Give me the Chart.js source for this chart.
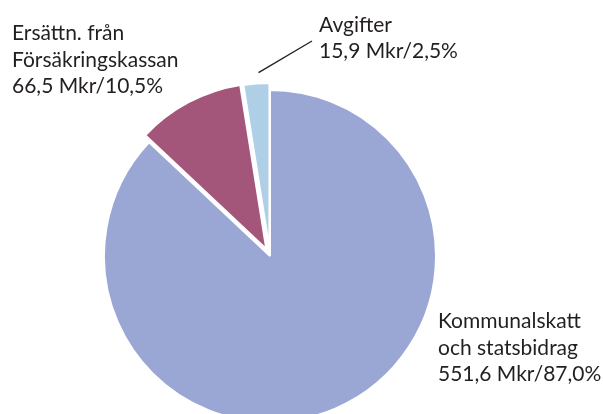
<!DOCTYPE html>
<html>
<head>
<meta charset="utf-8">
<script src="https://cdn.jsdelivr.net/npm/chart.js@4"></script>
<style>
  html, body { margin: 0; padding: 0; background: #ffffff; }
  canvas { display: block; }
</style>
</head>
<body>
<canvas id="c" width="603" height="414"></canvas>
<script>
// Data
const categories = ['Kommunalskatt och statsbidrag', 'Ersättn. från Försäkringskassan', 'Avgifter'];
const values = [551.6, 66.5, 15.9];
const labelLines = [
  ['Kommunalskatt', 'och statsbidrag', '551,6 Mkr/87,0%'],
  ['Ersättn. från', 'Försäkringskassan', '66,5 Mkr/10,5%'],
  ['Avgifter', '15,9 Mkr/2,5%']
];

const colors = ['#9AA7D4', '#A4567A', '#AFCFE7'];
const explodePx = [0, 8, 7];
const labelFont = '21px Lato';
const textColor = '#231F20';

const explodePlugin = {
  id: 'explode',
  afterDatasetsUpdate(chart) {
    const meta = chart.getDatasetMeta(0);
    meta.data.forEach((el, i) => {
      const d = explodePx[i] || 0;
      if (!d) return;
      const mid = (el.startAngle + el.endAngle) / 2;
      el.x += Math.cos(mid) * d;
      el.y += Math.sin(mid) * d;
    });
  }
};

const labelPlugin = {
  id: 'pieLabels',
  afterDatasetsDraw(chart) {
    const ctx = chart.ctx;
    const meta = chart.getDatasetMeta(0);
    const arcs = meta.data;
    const cx = arcs[0].x, cy = arcs[0].y, R = arcs[0].outerRadius;
    ctx.save();
    ctx.fillStyle = textColor;
    ctx.font = labelFont;
    ctx.textAlign = 'left';
    ctx.textBaseline = 'alphabetic';
    const lh = 26.5;
    // Kommunalskatt (lower right)
    let x0 = cx + R + 2, y0 = cy + 72;
    labelLines[0].forEach((t, j) => ctx.fillText(t, x0, y0 + j * lh));
    // Ersättn. (upper left)
    x0 = cx - 258; y0 = cy - 216;
    labelLines[1].forEach((t, j) => ctx.fillText(t, x0, y0 + j * lh));
    // Avgifter (top)
    x0 = cx + 49; y0 = cy - 224;
    labelLines[2].forEach((t, j) => ctx.fillText(t, x0, y0 + j * 26));
    // leader line for Avgifter
    const a = arcs[2];
    const mid = (a.startAngle + a.endAngle) / 2;
    const r1 = a.outerRadius + 11;
    const sx = a.x + Math.cos(mid) * r1 + 3, sy = a.y + Math.sin(mid) * r1;
    ctx.strokeStyle = '#231F20';
    ctx.lineWidth = 1.3;
    ctx.beginPath();
    ctx.moveTo(sx, sy);
    ctx.lineTo(cx + 42, cy - 215);
    ctx.stroke();
    ctx.restore();
  }
};

new Chart(document.getElementById('c'), {
  type: 'pie',
  data: {
    labels: categories,
    datasets: [{
      data: values,
      backgroundColor: colors,
      borderColor: '#ffffff',
      borderWidth: 2,
      clip: false
    }]
  },
  options: {
    responsive: false,
    animation: false,
    radius: 166,
    layout: { padding: { left: 0, right: 63, top: 98, bottom: 0 } },
    plugins: {
      legend: { display: false },
      tooltip: { enabled: false }
    }
  },
  plugins: [explodePlugin, labelPlugin]
});
</script>
</body>
</html>
